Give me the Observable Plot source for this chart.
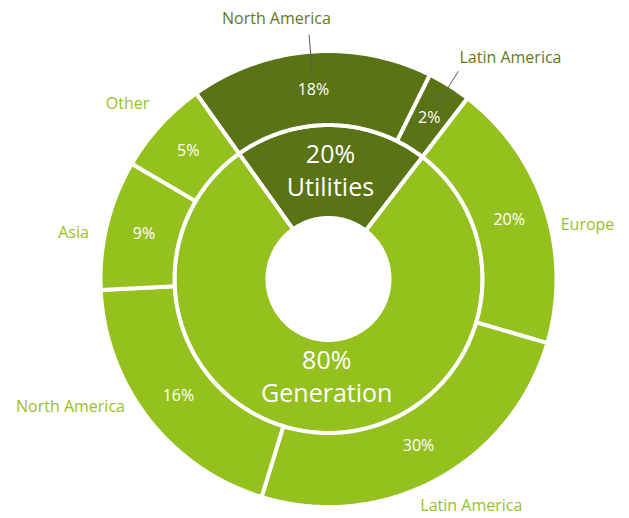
<!DOCTYPE html>
<html><head><meta charset="utf-8">
<script src="https://cdn.jsdelivr.net/npm/d3@7"></script>
<script src="https://cdn.jsdelivr.net/npm/@observablehq/plot@0.6"></script>
<style>
html,body{margin:0;padding:0;background:#fff;}
#chart svg{display:block;font-family:"Open Sans",sans-serif;}
</style>
</head><body><div id="chart"></div>
<script>
// ---- data ----
const innerNames = ["Utilities", "Generation"];
const innerShare = [20, 80];                 // printed percentages
const innerArc = [20.3, 79.7];               // arc extent as drawn (% of full turn)
const outerGroup = ["Utilities", "Utilities", "Generation", "Generation", "Generation", "Generation", "Generation"];
const outerNames = ["North America", "Latin America", "Europe", "Latin America", "North America", "Asia", "Other"];
const outerShare = [18, 2, 20, 30, 16, 9, 5];          // printed percentages
const outerArc = [17.2, 3.1, 19.1, 25.2, 19.5, 9.2, 6.7]; // arc extent as drawn (% of full turn)
const startAngle = -35.5;                    // degrees clockwise from 12 o'clock

// ---- layout / style ----
const W = 629, H = 518, CX = 328, CY = 278.5;
const R = {hole: 61, mid: 154, outer: 228, pct: 190, lead0: 204, lead1: 245};
const centerR = [108, 98];
const groupColor = {Utilities: "#5a7314", Generation: "#95c11f"};
const nameColor = {Utilities: "#5f7a19", Generation: "#95c11f"};
// label anchor points for the outer category names (angle deg, radius)
const namePos = [[-11.3, 265.6], [39.4, 286.7], [78.1, 264.7], [147.8, 268], [243.7, 287.8], [280.3, 259.2], [311, 266.2]];
const leaderFor = [true, true, false, false, false, false, false];

const rad = d => d * Math.PI / 180;
const px = (deg, r) => r * Math.sin(rad(deg));
const py = (deg, r) => r * Math.cos(rad(deg));

function spans(arcs) {
  let a = startAngle;
  return arcs.map(v => { const a0 = a; a += v * 3.6; return [a0, a]; });
}
function ringPoints(sp, r0, r1, fills, prefix) {
  const pts = [];
  sp.forEach(([a0, a1], i) => {
    const n = Math.max(2, Math.ceil(a1 - a0));
    for (let k = 0; k <= n; k++) { const a = a0 + (a1 - a0) * k / n; pts.push({key: prefix + i, x: px(a, r1), y: py(a, r1), fill: fills[i]}); }
    for (let k = n; k >= 0; k--) { const a = a0 + (a1 - a0) * k / n; pts.push({key: prefix + i, x: px(a, r0), y: py(a, r0), fill: fills[i]}); }
  });
  return pts;
}

const innerSp = spans(innerArc);
const outerSp = spans(outerArc);
const pts = [
  ...ringPoints(innerSp, R.hole, R.mid, innerNames.map(n => groupColor[n]), "i"),
  ...ringPoints(outerSp, R.mid, R.outer, outerGroup.map(g => groupColor[g]), "o")
];

const mid = ([a0, a1]) => (a0 + a1) / 2;
const pctLabels = outerSp.map((s, i) => ({x: px(mid(s), R.pct), y: py(mid(s), R.pct), t: outerShare[i] + "%"}));
const centerLabels = innerSp.map((s, i) => ({x: px(mid(s), centerR[i]), y: py(mid(s), centerR[i]), p: innerShare[i] + "%", n: innerNames[i]}));
const nameLabels = outerNames.map((n, i) => ({x: px(namePos[i][0], namePos[i][1]), y: py(namePos[i][0], namePos[i][1]), t: n, c: nameColor[outerGroup[i]]}));
const leaders = outerSp.map((s, i) => ({a: mid(s), on: leaderFor[i]})).filter(d => d.on)
  .map(d => ({x1: px(d.a, R.lead0), y1: py(d.a, R.lead0), x2: px(d.a, R.lead1), y2: py(d.a, R.lead1)}));

const chart = Plot.plot({
  width: W, height: H, margin: 0,
  x: {domain: [-CX, W - CX], axis: null},
  y: {domain: [-(H - CY), CY], axis: null},
  color: {type: "identity"},
  style: {fontFamily: "'Open Sans', sans-serif", background: "#fff"},
  marks: [
    Plot.line(pts, {x: "x", y: "y", z: "key", fill: "fill", stroke: "white", strokeWidth: 4, curve: "linear-closed", strokeLinejoin: "miter"}),
    Plot.link(leaders, {x1: "x1", y1: "y1", x2: "x2", y2: "y2", stroke: "#5c5c5c", strokeWidth: 1}),
    Plot.text(pctLabels, {x: "x", y: "y", text: "t", fill: "white", fontSize: 16}),
    Plot.text(centerLabels, {x: "x", y: "y", text: "p", fill: "white", fontSize: 25, dy: -16}),
    Plot.text(centerLabels, {x: "x", y: "y", text: "n", fill: "white", fontSize: 25, dy: 17}),
    Plot.text(nameLabels, {x: "x", y: "y", text: "t", fill: "c", fontSize: 16})
  ]
});
document.getElementById("chart").appendChild(chart);
</script>
</body></html>
